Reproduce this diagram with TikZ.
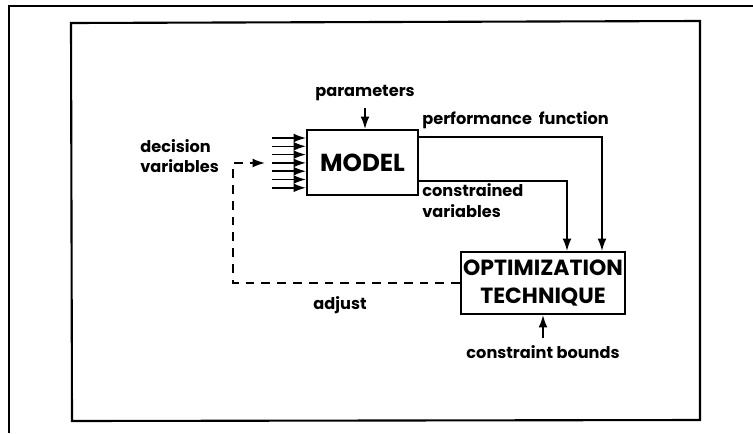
\documentclass[tikz,border=0pt]{standalone}
\usepackage{fontspec}
\setmainfont{Poppins}
\usetikzlibrary{positioning,arrows.meta}

\begin{document}
\begin{tikzpicture}[
    x=0.02cm, y=-0.02cm,
    block/.style={
        rectangle,
        draw=black,
        line width=1.2pt,
        align=center,
        inner sep=0pt,
        font=\bfseries\fontsize{12.5}{15.5}\selectfont
    },
    tag/.style={
        align=left,
        inner sep=0pt,
        font=\bfseries\fontsize{9.2}{11.8}\selectfont
    },
    flow/.style={-{Latex[length=7pt,width=5pt]}, line width=0.9pt}
]
    \useasboundingbox (0,0) rectangle (753,433);

    % --- FRAMES ---
    \draw [line width=1.4pt] (9,433) -- (9,6) -- (753,6);
    \draw [line width=1.2pt] (71,23) -- (700,21) -- (700,420) -- (72,421) -- cycle;

    % --- BLOCKS ---
    \node [block, minimum width=2.22cm, minimum height=1.3cm, font=\bfseries\fontsize{14}{16}\selectfont] (model) at (362.5,162.5) {MODEL};
    \node [block, minimum width=3.28cm, minimum height=1.24cm] (optim) at (543,283) {OPTIMIZATION\\TECHNIQUE};

    % --- LABELS ---
    \node [tag] (params) at (365,93) {parameters};
    \node [tag, anchor=west] (perf) at (422,120) {performance\ \ function};
    \node [tag, anchor=north west] (constr) at (422,183) {constrained\\variables};
    \node [tag, anchor=west] (decision) at (140,156) {decision\\variables};
    \node [tag] (adjust) at (340,305) {adjust};
    \node [tag] (bounds) at (543,352) {constraint\ bounds};

    % --- ARROWS ---
    % decision variables into the model
    \foreach \i in {0,...,6}
        \coordinate (in\i) at (272,138+8.3*\i);
    \foreach \i in {0,...,6}
        \draw [flow] (in\i) -- (in\i -| model.west);

    % parameters -> model
    \draw [flow] ([yshift=-4pt]params.south) -- (params.south |- model.north);

    % model -> optimization
    \draw [flow] ([yshift=-0.16cm]model.north east) -| ([xshift=1.18cm]optim.north);
    \draw [flow] ([yshift=0.3cm]model.south east) -| ([xshift=0.48cm]optim.north);

    % constraint bounds -> optimization
    \draw [flow] ([yshift=4pt]bounds.north) -- (bounds.north |- optim.south);

    % adjust (feedback)
    \coordinate (fbtop) at (233,163);
    \coordinate (fbtip) at (265,163);
    \draw [flow, dash pattern=on 5pt off 4pt] (optim.west) -| (fbtop) -- (fbtip);

\end{tikzpicture}
\end{document}
